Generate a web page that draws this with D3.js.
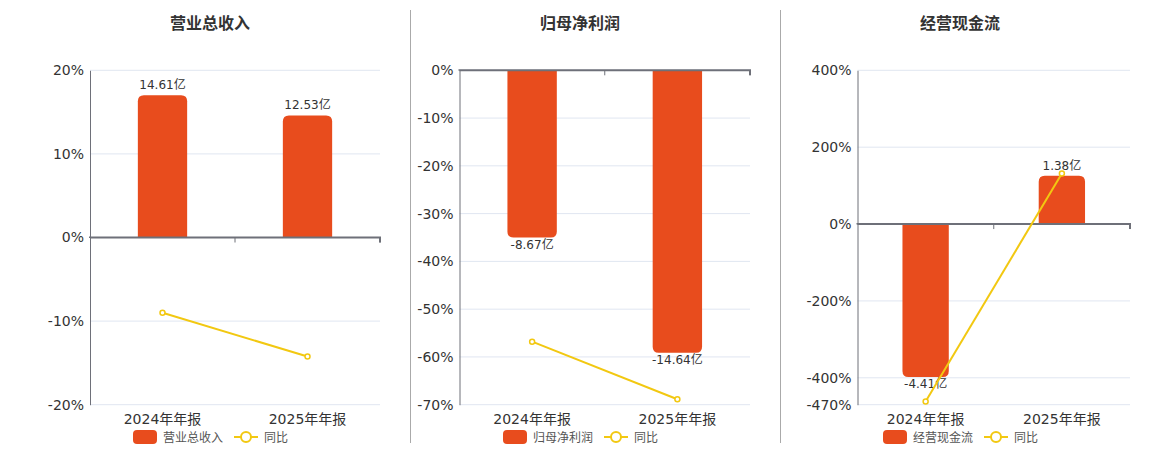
<!DOCTYPE html>
<html><head><meta charset="utf-8">
<script src="https://cdn.jsdelivr.net/npm/d3@7/dist/d3.min.js"></script>
<style>body{margin:0;background:#fff;}svg{display:block;}</style>
</head><body>
<svg id="c" width="1160" height="450"></svg>
<script>
const categories = ["2024年年报", "2025年年报"];
const titles = ["营业总收入", "归母净利润", "经营现金流"];
const revenueValues = [14.61, 12.53];
const revenueLabels = ["14.61亿", "12.53亿"];
const revenueYoY = [-9.0, -14.24];
const revenueTicks = [20, 10, 0, -10, -20];
const revenueBarAxis = [-17.16, 17.16];
const profitValues = [-8.67, -14.64];
const profitLabels = ["-8.67亿", "-14.64亿"];
const profitYoY = [-56.8, -68.86];
const profitTicks = [0, -10, -20, -30, -40, -50, -60, -70];
const profitBarAxis = [-17.34, 0];
const cashValues = [-4.41, 1.38];
const cashLabels = ["-4.41亿", "1.38亿"];
const cashYoY = [-461.6, 131.3];
const cashTicks = [400, 200, 0, -200, -400, -470];
const cashBarAxis = [-5.21, 4.42];
const yoyName = "同比";

const panels = [
  {title: titles[0], vals: revenueValues, labels: revenueLabels, yoy: revenueYoY, ticks: revenueTicks, barAxis: revenueBarAxis, x0: 90, x1: 380, tx: 210, lx: 133},
  {title: titles[1], vals: profitValues, labels: profitLabels, yoy: profitYoY, ticks: profitTicks, barAxis: profitBarAxis, x0: 459.5, x1: 750, tx: 580, lx: 503},
  {title: titles[2], vals: cashValues, labels: cashLabels, yoy: cashYoY, ticks: cashTicks, barAxis: cashBarAxis, x0: 857.5, x1: 1130, tx: 960, lx: 883}
];
const yTop = 70.3, yBot = 404.7;
const barColor = "#e84c1d", lineColor = "#f2c811", axisColor = "#6e7079", gridColor = "#e0e6f1";
const numFont = "'DejaVu Sans','Noto Sans CJK SC',sans-serif";
const svg = d3.select("#c");

// separators
[410.5, 780.5].forEach(x => svg.append("line").attr("x1", x).attr("x2", x).attr("y1", 10).attr("y2", 443).attr("stroke", "#aaa").attr("stroke-width", 1));

panels.forEach(p => {
  const g = svg.append("g");
  const x = d3.scaleBand().domain(categories).range([p.x0, p.x1]);
  const y = d3.scaleLinear().domain(d3.extent(p.ticks)).range([yBot, yTop]);
  const yb = d3.scaleLinear().domain(p.barAxis).range([yBot, yTop]);
  g.append("text").attr("x", p.tx).attr("y", 29).attr("text-anchor", "middle")
    .attr("font-family", "'Noto Sans CJK SC',sans-serif").attr("font-weight", "bold").attr("font-size", 16).attr("fill", "#333").text(p.title);
  // grid
  g.selectAll(".grid").data(p.ticks).join("line")
    .attr("x1", p.x0).attr("x2", p.x1).attr("y1", d => y(d)).attr("y2", d => y(d))
    .attr("stroke", gridColor).attr("stroke-width", 1);
  // y axis
  const ya = d3.axisLeft(y).tickValues(p.ticks).tickSize(0).tickPadding(6).tickFormat(d => d + "%");
  const yg = g.append("g").attr("transform", `translate(${p.x0},0)`).call(ya);
  yg.select(".domain").attr("stroke", axisColor);
  yg.selectAll("text").attr("font-family", numFont).attr("font-size", 14).attr("fill", "#333");
  // bars
  const bw = x.bandwidth() * 0.34;
  const r = 6;
  p.vals.forEach((v, i) => {
    const cx = x(categories[i]) + x.bandwidth() / 2;
    const y0 = yb(0), y1 = yb(v);
    const l = cx - bw / 2, rr = cx + bw / 2;
    let path;
    if (v >= 0) {
      path = `M${l},${y0}L${l},${y1 + r}Q${l},${y1} ${l + r},${y1}L${rr - r},${y1}Q${rr},${y1} ${rr},${y1 + r}L${rr},${y0}Z`;
    } else {
      path = `M${l},${y0}L${l},${y1 - r}Q${l},${y1} ${l + r},${y1}L${rr - r},${y1}Q${rr},${y1} ${rr},${y1 - r}L${rr},${y0}Z`;
    }
    g.append("path").attr("d", path).attr("fill", barColor);
    g.append("text").attr("x", cx).attr("y", v >= 0 ? y1 - 6 : y1 + 11)
      .attr("text-anchor", "middle").attr("font-family", numFont).attr("font-size", 12).attr("fill", "#333").text(p.labels[i]);
  });
  // zero axis line
  const xa = d3.axisBottom(x).tickSize(5).tickFormat("");
  const xg = g.append("g").attr("transform", `translate(0,${y(0)})`).call(xa);
  xg.select(".domain").attr("stroke", axisColor).attr("stroke-width", 2).attr("d", `M${p.x0},0.5V0H${p.x1}V5`);
  xg.selectAll(".tick").remove();
  [1, 2].forEach(k => g.append("line").attr("x1", p.x0 + k * x.bandwidth()).attr("x2", p.x0 + k * x.bandwidth())
    .attr("y1", y(0)).attr("y2", y(0) + 5).attr("stroke", axisColor).attr("stroke-width", 1));
  // x labels
  categories.forEach(c => g.append("text").attr("x", x(c) + x.bandwidth() / 2).attr("y", 424)
    .attr("text-anchor", "middle").attr("font-family", numFont).attr("font-size", 14).attr("fill", "#333").text(c));
  // line
  const line = d3.line().x((d, i) => x(categories[i]) + x.bandwidth() / 2).y(d => y(d));
  g.append("path").attr("d", line(p.yoy)).attr("fill", "none").attr("stroke", lineColor).attr("stroke-width", 2);
  p.yoy.forEach((d, i) => g.append("circle").attr("cx", x(categories[i]) + x.bandwidth() / 2).attr("cy", y(d)).attr("r", 2.5)
    .attr("fill", "#fff").attr("stroke", lineColor).attr("stroke-width", 1.5));
  // legend
  const ly = 437;
  g.append("rect").attr("x", p.lx).attr("y", ly - 7).attr("width", 24).attr("height", 14).attr("rx", 4).attr("fill", barColor);
  g.append("text").attr("x", p.lx + 30).attr("y", ly + 4.5).attr("font-family", "'Noto Sans CJK SC',sans-serif").attr("font-size", 12).attr("fill", "#555").text(p.title);
  const l2 = p.lx + 101;
  g.append("line").attr("x1", l2).attr("x2", l2 + 24).attr("y1", ly).attr("y2", ly).attr("stroke", lineColor).attr("stroke-width", 2);
  g.append("circle").attr("cx", l2 + 12).attr("cy", ly).attr("r", 5).attr("fill", "#fff").attr("stroke", lineColor).attr("stroke-width", 2);
  g.append("text").attr("x", l2 + 30).attr("y", ly + 4.5).attr("font-family", "'Noto Sans CJK SC',sans-serif").attr("font-size", 12).attr("fill", "#555").text(yoyName);
});
</script>
</body></html>
